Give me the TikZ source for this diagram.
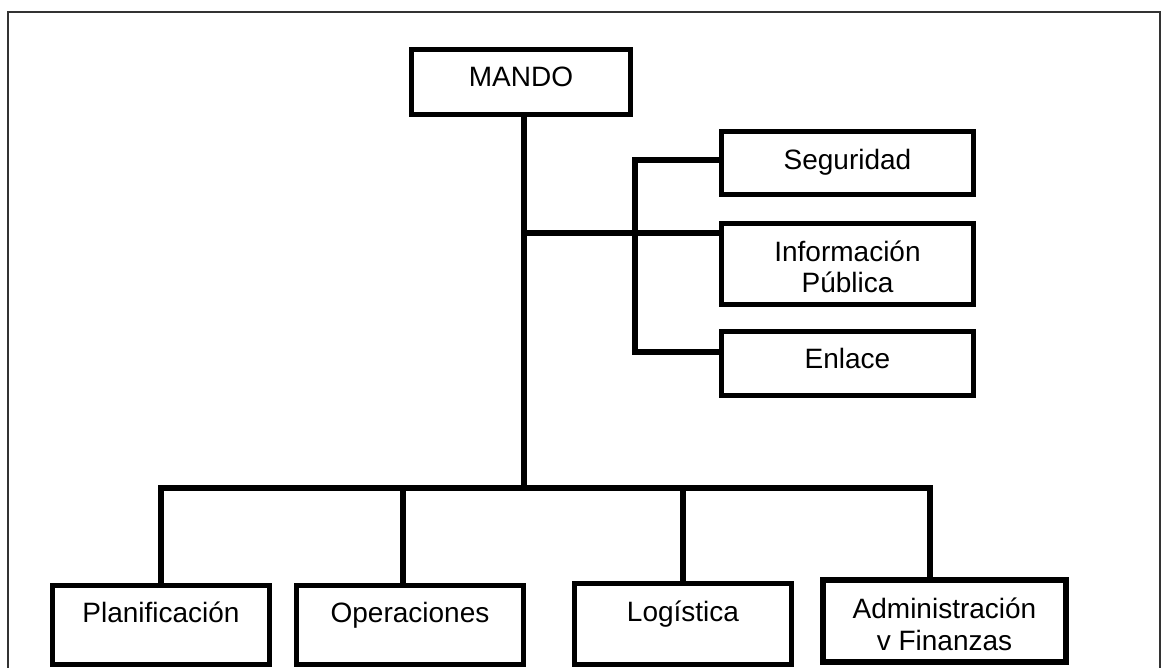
\documentclass[tikz,border=0pt]{standalone}
\usepackage{fontspec}
\setmainfont{Liberation Sans}
\begin{document}
\begin{tikzpicture}[x=0.5pt,y=-0.5pt,
  box/.style={draw=black, line width=2.5pt, fill=white, inner sep=0pt, rectangle},
  thickbox/.style={box, line width=3pt},
  lbl/.style={inner sep=0pt, anchor=base, font=\fontsize{14}{16}\selectfont},
  conn/.style={draw=black, line width=3pt, line join=miter},
  frame/.style={draw=black!80, line width=0.75pt}
]
\useasboundingbox (0,0) rectangle (1164,668);
\draw[frame] (8,12) rectangle (1160,720);

% boxes
\node[box, minimum width=109.5pt, minimum height=32.5pt] (mando) at (521,82) {};
\node[box, minimum width=126pt, minimum height=31.5pt] (seg) at (847.5,163) {};
\node[box, minimum width=126pt, minimum height=40.5pt] (info) at (847.5,264) {};
\node[box, minimum width=126pt, minimum height=32pt] (enl) at (847.5,363.5) {};
\node[box, minimum width=108.5pt, minimum height=39.5pt] (plan) at (161,625) {};
\node[box, minimum width=113.5pt, minimum height=39.5pt] (ops) at (410,625) {};
\node[box, minimum width=108.5pt, minimum height=40.5pt] (log) at (683,624) {};
\node[thickbox, minimum width=121.5pt, minimum height=41pt] (adm) at (944.5,621) {};

% labels
\node[lbl] (mando-t) at (mando.center |- 0,87) {MANDO};
\node[lbl] (seg-t) at (seg.center |- 0,170) {Seguridad};
\node[lbl] (info-t1) at (info.center |- 0,262) {Información};
\node[lbl] (info-t2) at (info.center |- 0,293) {Pública};
\node[lbl] (enl-t) at (enl.center |- 0,369) {Enlace};
\node[lbl] (plan-t) at (plan.center |- 0,623) {Planificación};
\node[lbl] (ops-t) at (ops.center |- 0,623) {Operaciones};
\node[lbl] (log-t) at (log.center |- 0,622) {Logística};
\node[lbl] (adm-t1) at (adm.center |- 0,618) {Administración};
\node[lbl] (adm-t2) at (adm.center |- 0,651) {v Finanzas};

% coordinates
\coordinate (trunk) at (524,0);
\coordinate (bus) at (0,488);
\coordinate (ib) at (0,233);
\coordinate (s1) at (635,160);
\coordinate (e1) at (635,352);
\coordinate (d2) at (403,0);
\coordinate (d4) at (930,0);

% connectors
\draw[conn] (mando.south -| trunk) -- (trunk |- bus);
\draw[conn] (trunk |- ib) -- (info.west |- ib);
\draw[conn] (seg.west |- s1) -- (s1) -- (e1) -- (enl.west |- e1);
\draw[conn] (plan.north) -- (plan.north |- bus) -- (d4 |- bus) -- (d4 |- adm.north);
\draw[conn] (d2 |- bus) -- (d2 |- ops.north);
\draw[conn] (log.north |- bus) -- (log.north);
\end{tikzpicture}
\end{document}
